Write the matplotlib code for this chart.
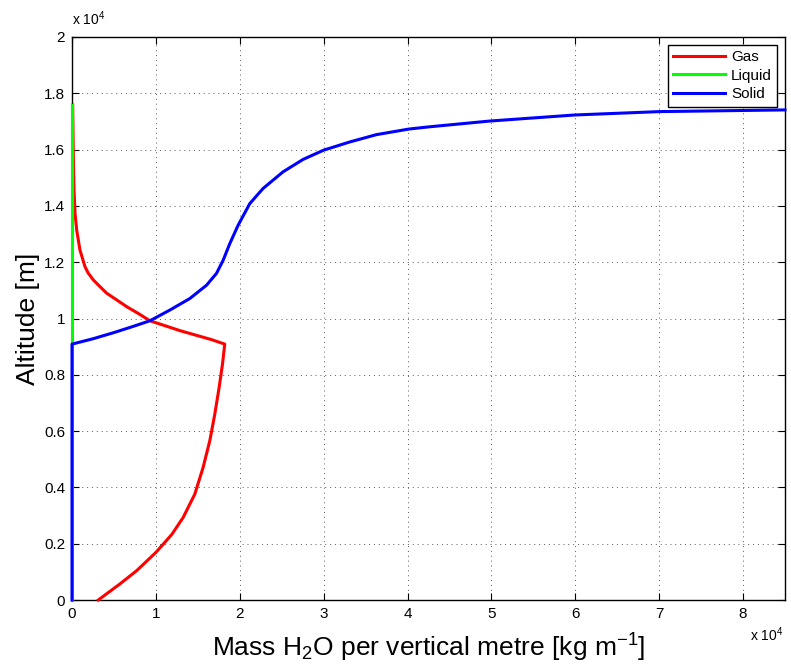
import numpy as np
import matplotlib
matplotlib.use("Agg")
import matplotlib.pyplot as plt
from matplotlib.ticker import FuncFormatter, MultipleLocator

plt.rcParams['font.family'] = ['Liberation Sans', 'DejaVu Sans']
plt.rcParams['mathtext.fontset'] = 'custom'
plt.rcParams['mathtext.rm'] = 'Liberation Sans'
plt.rcParams['mathtext.it'] = 'Liberation Sans:italic'

# Gas: lower branch up to the freezing level, then the upper branch
gas_x = [3130, 5710, 7700, 10000, 11900, 13250, 14640, 15630, 16430, 17020, 17540, 17940, 18210,
         16630, 12860, 9290, 7900, 6520, 5330, 4130, 3340, 2540, 1940, 1550, 950, 560, 360, 240, 160, 80]
gas_y = [0, 570, 1040, 1690, 2330, 2930, 3760, 4710, 5660, 6600, 7550, 8380, 9090,
         9250, 9570, 9920, 10180, 10420, 10660, 10900, 11130, 11370, 11610, 11840, 12430, 13140,
         13740, 14560, 15750, 17580]

# Liquid: zero everywhere up to the top
liq_x = [0, 0]
liq_y = [0, 17580]

# Solid
sol_x = [0, 0, 2500, 5000, 7300, 9290, 11670, 14050, 16030, 17220, 18020, 18810, 19800, 21190,
         22780, 25160, 27540, 30000, 33100, 36270, 40160, 42620, 49820, 59950, 70080, 85000]
sol_y = [0, 9090, 9280, 9500, 9720, 9920, 10300, 10710, 11180, 11600, 12070, 12660, 13310, 14080,
         14620, 15210, 15650, 15980, 16270, 16530, 16730, 16810, 17015, 17230, 17350, 17410]

fig = plt.figure(figsize=(7.91, 6.69), dpi=100)
ax = fig.add_axes([72/791, 1 - 600/669, (785 - 72)/791, (600 - 37)/669])

ax.plot(gas_x, gas_y, color='#ff0000', lw=2.2, label='Gas', zorder=3, clip_on=False)
ax.plot(liq_x, liq_y, color='#00ff00', lw=2.2, label='Liquid', zorder=3, clip_on=False)
ax.plot(sol_x, sol_y, color='#0000ff', lw=2.2, label='Solid', zorder=3, clip_on=False)

ax.set_xlim(0, 85000)
ax.set_ylim(0, 20000)
ax.xaxis.set_major_locator(MultipleLocator(10000))
ax.yaxis.set_major_locator(MultipleLocator(2000))
ax.xaxis.set_major_formatter(FuncFormatter(lambda v, p: f"{v/1e4:g}"))
ax.yaxis.set_major_formatter(FuncFormatter(lambda v, p: f"{v/1e4:g}"))
ax.tick_params(direction='in', length=5, width=0.8, labelsize=11, top=True, right=True,
               colors='black', pad=5)
ax.grid(True, color='0.35', linestyle=(0, (1, 4)), linewidth=0.7)
for s in ax.spines.values():
    s.set_linewidth(1.0)

ax.set_xlabel(r'Mass H$_2$O per vertical metre [kg m$^{-1}$]', fontsize=19, labelpad=8)
ax.set_ylabel('Altitude [m]', fontsize=19, labelpad=3)

fig.text(72/791, 1 - 25/669, r'x 10$^4$', fontsize=10, ha='left', va='baseline')
fig.text(750/791, 1 - 641/669, r'x 10$^4$', fontsize=10, ha='left', va='baseline')

leg = ax.legend(loc='upper right', fontsize=11, handlelength=3.4, fancybox=False,
                framealpha=1, edgecolor='black', borderaxespad=0.5,
                labelspacing=0.3, handletextpad=0.4, borderpad=0.35)
leg.get_frame().set_linewidth(1.0)

fig.savefig('out.png', dpi=100)
